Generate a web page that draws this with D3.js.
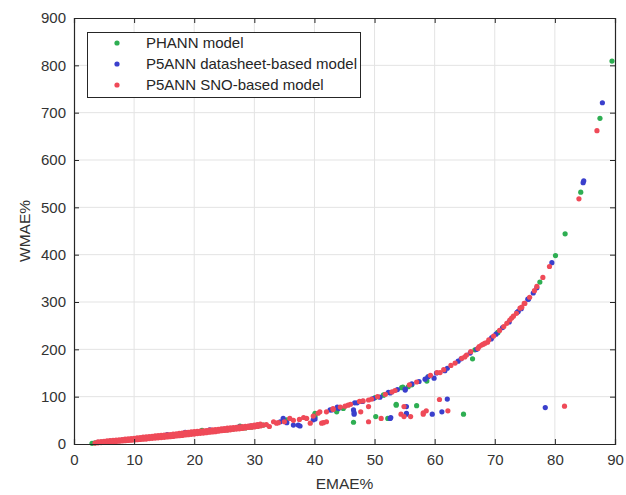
<!DOCTYPE html>
<html>
<head>
<meta charset="utf-8">
<script src="https://cdn.jsdelivr.net/npm/d3@7"></script>
<style>
  body { margin: 0; background: #fff; }
  svg { display: block; font-family: "Liberation Sans", Arial, sans-serif; }
</style>
</head>
<body>
<svg id="chart" width="626" height="495"></svg>
<script>
// ---- data ----
const xTicks = [0, 10, 20, 30, 40, 50, 60, 70, 80, 90];
const yTicks = [0, 100, 200, 300, 400, 500, 600, 700, 800, 900];
const seriesNames = ["PHANN model", "P5ANN datasheet-based model", "P5ANN SNO-based model"];
const seriesColors = ["#2eae52", "#3a3fcc", "#ef4a58"];

// PHANN model [EMAE%, WMAE%]
const phannPoints = [
  [3.5,2.5],[4.5,3.5],[5.5,4.5],[6.5,6],[7.5,7],[8.5,8],[9.5,9],[10.5,10],[11.5,11.5],[12.5,12.5],
  [13.5,14],[14.5,15],[15.5,16.5],[16.5,18],[17.5,19],[18.5,20.5],[19.5,22],[20.5,23],[21.5,25],[22.5,26],
  [23.5,27.5],[24.5,29],[25.5,30],[26.5,31.5],[27.5,33],[28.5,34],[29.5,35.5],[30.5,37],
  [21.3,29],[27.6,38],[31.5,40],[35.4,51],[40.1,63],[40.1,58],[40.1,65],[43.7,68],[43.7,70],[44.8,75],
  [46.5,46],[50.1,98],[50.2,58],[51.5,103],[51.5,104],[52.2,54],[53.6,82],[53.6,84],[54.5,119],[54.7,120],
  [55.6,121],[56.2,125],[57.0,81],[58.7,133],[58.9,142],[64.8,63],[66.3,180],[66.7,199],[70.5,235],[70.5,236],
  [77.5,342],[80.1,398],[81.7,444],[84.3,532],[87.5,688],[89.5,809],[3.0,1.5]
];

// P5ANN datasheet-based model [EMAE%, WMAE%]
const datasheetPoints = [
  [4,3.5],[5,4.5],[6,6],[7,7],[8,8],[9,9.5],[10,10.5],[11,11.5],[12,13],[13,14],[14,15.5],[15,17],[16,18],
  [17,19.5],[18,21],[19,22.5],[20,24],[21,25],[22,26.5],[23,28],[24,29],[25,30.5],[26,32],[27,33],[28,34.5],
  [29,36],[30,38],[31,40],[15.5,20],[18.5,24.5],[22.6,30],[24.8,31],[25.4,31],[27.5,36],[29.3,38],
  [34.3,47],[34.8,54],[35.4,45],[36.5,40],[37.3,40],[37.6,38],[39.8,51],[40.1,53],[42.6,72],[42.9,72],
  [43.8,78],[44.0,75],[46.5,72],[46.6,66],[46.6,63],[46.7,87],[47.1,87],[48.0,90],[49.8,96],[50.9,99],
  [52.3,109],[52.6,108],[52.6,54],[52.7,56],[53.8,115],[55.1,114],[55.1,116],[55.3,79],[55.3,63],[55.3,65],
  [56.2,127],[57.4,132],[58.4,137],[58.9,142],[59.6,63],[59.9,139],[60.3,150],[61.2,68],[61.7,155],[62.1,160],
  [62.1,95],[63.9,175],[64.4,180],[65.9,192],[67.0,200],[69.4,222],[69.5,225],[70.2,232],[71.3,246],[72.4,258],
  [73.7,278],[73.9,280],[74.4,286],[75.5,306],[75.6,306],[76.4,319],[77.0,330],[78.4,77],[79.5,383],
  [84.7,552],[84.8,556],[87.9,721]
];

// P5ANN SNO-based model [EMAE%, WMAE%]
const snoPoints = [
  [3.5,2],[4,2.5],[4.5,3],[5,3.5],[5.5,4],[6,4.5],[6.5,5],[7,5.5],[7.5,6],[8,6.5],[8.5,7],[9,7.5],[9.5,8],
  [10,8.5],[10.5,9],[11,9.5],[11.5,10],[12,10.5],[12.5,11.5],[13,12],[13.5,12.5],[14,13],[14.5,13.5],[15,14],
  [15.5,15],[16,15.5],[16.5,16],[17,17],[17.5,17.5],[18,18],[18.5,19],[19,19.5],[19.5,20.5],[20,21],[20.5,22],
  [21,22.5],[21.5,23],[22,24],[22.5,25],[23,25.5],[23.5,26],[24,27],[24.5,28],[25,28.5],[25.5,29],[26,30],
  [26.5,31],[27,31.5],[27.5,32],[28,33],[28.5,34],[29,35],[29.5,35.5],[30,36],[30.5,37],[31,38],
  [4,4.5],[4.5,5],[5,5.5],[5.5,6.5],[6,7],[6.5,7.5],[7,8.5],[7.5,9],[8,9.5],[8.5,10.5],[9,11],[9.5,11.5],
  [10,12],[10.5,13],[11,13.5],[11.5,14.5],[12,15],[12.5,15.5],[13,16],[13.5,17],[14,17.5],[14.5,18.5],[15,19],
  [15.5,19.5],[16,20],[16.5,21],[17,21.5],[17.5,22.5],[18,23],[18.5,24],[19,24.5],[19.5,25.5],[20,26],
  [20.5,26.5],[21,27],[21.5,28],[22,28.5],[22.5,29.5],[23,30],[23.5,30.5],[24,31],[24.5,32],[25,32.5],
  [25.5,33.5],[26,34],[26.5,34.5],[27,35],[27.5,36],[28,36.5],[28.5,37.5],[29,38],[29.5,39],[30,40],
  [30.5,41],[31,42],
  [31.5,40],[32,41],[32.5,37],[33.2,47],[33.7,44],[34,45],[35,47],[35.9,54],[36.5,50],[37.5,52],[38.2,56],
  [38.7,54],[39.3,44],[39.8,59],[40.6,65],[40.9,68],[41.2,44],[41.5,45],[42.0,47],[42.0,68],[43.1,73],
  [43.1,75],[44.3,78],[45.1,80],[45.6,82],[46.0,84],[47.5,90],[47.7,68],[48.1,91],[49.0,79],[49.0,93],
  [49.0,47],[49.5,95],[50.5,100],[51.1,54],[51.8,105],[52.9,110],[53.4,113],[54.4,63],[54.9,58],[54.9,79],
  [55.8,125],[56.0,58],[57.0,131],[58.1,63],[58.1,66],[58.6,70],[59.3,145],[60.4,151],[60.8,94],[60.9,151],
  [61.5,157],[62.2,70],[62.7,166],[63.4,171],[64.5,181],[65.0,184],[65.3,188],[66.0,195],[67.2,202],
  [67.4,206],[67.8,209],[68.1,211],[68.4,213],[68.8,215],[69.0,220],[69.8,228],[70.8,240],[71.5,248],
  [72.0,255],[72.5,262],[72.8,266],[73.1,270],[73.6,276],[74.2,287],[74.5,289],[74.9,297],[75.0,297],
  [75.8,310],[76.6,324],[77.0,333],[78.0,352],[79.1,375],[81.6,80],[84.0,518],[87.0,662]
];

const allSeries = [phannPoints, datasheetPoints, snoPoints];

// ---- layout ----
const svg = d3.select("#chart");
const pLeft = 74, pRight = 615, pTop = 18, pBottom = 444;
const x = d3.scaleLinear().domain([0, 90]).range([pLeft, pRight]);
const y = d3.scaleLinear().domain([0, 900]).range([pBottom, pTop]);
const dotR = 2.6;

svg.append("rect").attr("width", 626).attr("height", 495).attr("fill", "#fff");

// grid
const grid = svg.append("g");
grid.selectAll(".gx").data(xTicks.slice(1, -1)).join("line")
  .attr("x1", d => x(d)).attr("x2", d => x(d)).attr("y1", pTop).attr("y2", pBottom)
  .attr("stroke", "#e3e3e3").attr("stroke-width", 1);
grid.selectAll(".gy").data(yTicks.slice(1, -1)).join("line")
  .attr("y1", d => y(d)).attr("y2", d => y(d)).attr("x1", pLeft).attr("x2", pRight)
  .attr("stroke", "#e3e3e3").attr("stroke-width", 1);

// points
allSeries.forEach((pts, i) => {
  svg.append("g").selectAll("circle").data(pts).join("circle")
    .attr("cx", d => x(d[0])).attr("cy", d => y(d[1])).attr("r", dotR)
    .attr("fill", seriesColors[i]);
});

// axes (inner ticks, box)
const tickLen = 5;
const axisColor = "#262626";
const fmt = d3.format("d");
const xb = svg.append("g").attr("transform", `translate(0,${pBottom})`)
  .call(d3.axisBottom(x).tickValues(xTicks).tickSize(-tickLen).tickPadding(10).tickFormat(fmt));
const xt = svg.append("g").attr("transform", `translate(0,${pTop})`)
  .call(d3.axisTop(x).tickValues(xTicks).tickSize(-tickLen).tickFormat(""));
const yl = svg.append("g").attr("transform", `translate(${pLeft},0)`)
  .call(d3.axisLeft(y).tickValues(yTicks).tickSize(-tickLen).tickPadding(8).tickFormat(fmt));
const yr = svg.append("g").attr("transform", `translate(${pRight},0)`)
  .call(d3.axisRight(y).tickValues(yTicks).tickSize(-tickLen).tickFormat(""));
[xb, xt, yl, yr].forEach(g => {
  g.selectAll("path").attr("stroke", axisColor).attr("stroke-width", 1.2);
  g.selectAll("line").attr("stroke", axisColor);
  g.selectAll("text").attr("fill", "#333").style("font-size", "15px")
    .style("font-family", "'Liberation Sans', Arial, sans-serif");
});

// axis labels
svg.append("text").attr("x", (pLeft + pRight) / 2).attr("y", 489).attr("text-anchor", "middle")
  .attr("fill", "#333").style("font-size", "15.5px").text("EMAE%");
svg.append("text").attr("transform", `translate(30,${(pTop + pBottom) / 2}) rotate(-90)`)
  .attr("text-anchor", "middle").attr("fill", "#333").style("font-size", "15.5px").text("WMAE%");

// legend
const lg = svg.append("g");
lg.append("rect").attr("x", 87.5).attr("y", 32.5).attr("width", 273).attr("height", 65)
  .attr("fill", "#fff").attr("stroke", "#262626").attr("stroke-width", 1);
seriesNames.forEach((name, i) => {
  const cy = 43 + i * 21;
  lg.append("circle").attr("cx", 117).attr("cy", cy).attr("r", dotR).attr("fill", seriesColors[i]);
  lg.append("text").attr("x", 146).attr("y", cy + 5).attr("fill", "#262626")
    .style("font-size", "15px").text(name);
});
</script>
</body>
</html>
